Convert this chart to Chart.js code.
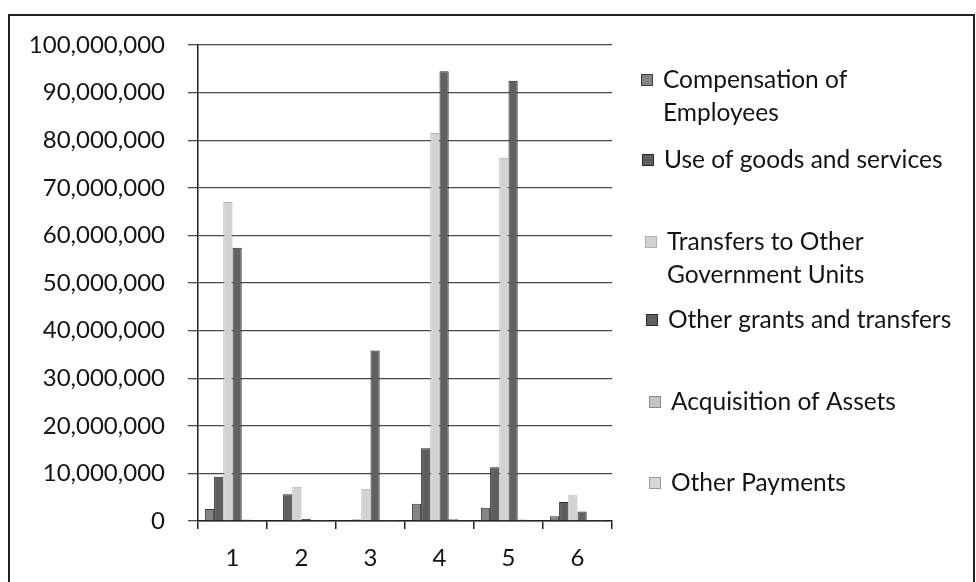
<!DOCTYPE html>
<html><head><meta charset="utf-8">
<script src="https://cdn.jsdelivr.net/npm/chart.js@4"></script>
<style>
html,body{margin:0;padding:0;background:#fff;}
#wrap{position:relative;width:976px;height:582px;overflow:hidden;background:#fff;}
#frame{position:absolute;left:8px;top:14px;width:963px;height:640px;border:2px solid #222;pointer-events:none;}
canvas{position:absolute;left:0;top:0;}
</style></head><body>
<div id="wrap"><canvas id="c" width="976" height="582"></canvas><div id="frame"></div></div>
<script>
const categories = ['1', '2', '3', '4', '5', '6'];
const seriesNames = ['Compensation of\nEmployees', 'Use of goods and services', 'Transfers to Other\nGovernment Units', 'Other grants and transfers', 'Acquisition of Assets', 'Other Payments'];
const compensation  = [2500000, 200000, 200000, 3600000, 2800000, 1000000];
const goodsServices = [9300000, 5600000, 300000, 15300000, 11300000, 4000000];
const transfersGov  = [67000000, 7200000, 6800000, 81500000, 76300000, 5400000];
const otherGrants   = [57400000, 400000, 35800000, 94500000, 92500000, 2000000];
const acquisition   = [300000, 200000, 100000, 400000, 300000, 200000];
const otherPayments = [200000, 100000, 100000, 200000, 200000, 100000];
const yMin = 0, yMax = 100000000, yStep = 10000000;

const seriesValues = [compensation, goodsServices, transfersGov, otherGrants, acquisition, otherPayments];
const fills   = ['#858585', '#5e5e5e', '#d2d2d2', '#616161', '#c4c4c4', '#d6d6d6'];
const borders = ['#3a3a3a', '#2a2a2a', '#b0b0b0', '#2a2a2a', '#8a8a8a', '#9a9a9a'];

const FONT = 'Lato, "Open Sans", sans-serif';

const legendPlugin = {
  id: 'sideLegend',
  afterDraw(chart) {
    const ctx = chart.ctx;
    const items = [
      {x: 647, y: 80}, {x: 648, y: 160}, {x: 651, y: 242},
      {x: 652, y: 320}, {x: 655, y: 402}, {x: 655, y: 483}
    ];
    ctx.save();
    ctx.font = '24.5px ' + FONT;
    ctx.textBaseline = 'middle';
    ctx.textAlign = 'left';
    chart.data.datasets.forEach((ds, i) => {
      const p = items[i];
      ctx.fillStyle = ds.backgroundColor;
      ctx.strokeStyle = ds.borderColor;
      ctx.lineWidth = 1;
      ctx.fillRect(p.x - 5, p.y - 5, 10, 10);
      ctx.strokeRect(p.x - 5.5, p.y - 5.5, 11, 11);
      ctx.fillStyle = '#141414';
      ds.label.split('\n').forEach((line, k) => {
        ctx.fillText(line, p.x + 16, p.y + k * 33);
      });
    });
    ctx.restore();
  }
};

new Chart(document.getElementById('c'), {
  type: 'bar',
  data: {
    labels: categories,
    datasets: seriesNames.map((name, i) => ({
      label: name,
      data: seriesValues[i],
      backgroundColor: fills[i],
      borderColor: borders[i],
      borderWidth: 1,
      categoryPercentage: 0.8,
      barPercentage: 1.0
    }))
  },
  options: {
    responsive: false,
    animation: false,
    layout: {padding: {left: 0, right: 364, top: 45, bottom: 0}},
    plugins: {legend: {display: false}, tooltip: {enabled: false}},
    scales: {
      x: {
        offset: true,
        grid: {display: true, drawOnChartArea: false, drawTicks: true, offset: true, tickLength: 8, color: '#222', lineWidth: 1.5},
        border: {display: true, color: '#222', width: 1.5},
        ticks: {color: '#141414', font: {family: FONT, size: 24}, padding: 15},
        afterFit(scale) { scale.height = 61; }
      },
      y: {
        min: yMin, max: yMax,
        grid: {color: '#4a4a4a', lineWidth: 1.3, tickLength: 10, drawTicks: true},
        border: {display: true, color: '#222', width: 1.5},
        ticks: {
          stepSize: yStep,
          color: '#141414',
          font: {family: FONT, size: 24},
          padding: 23,
          callback: v => v.toLocaleString('en-US')
        },
        afterFit(scale) { scale.width = 198; }
      }
    }
  },
  plugins: [legendPlugin]
});
</script>
</body></html>
